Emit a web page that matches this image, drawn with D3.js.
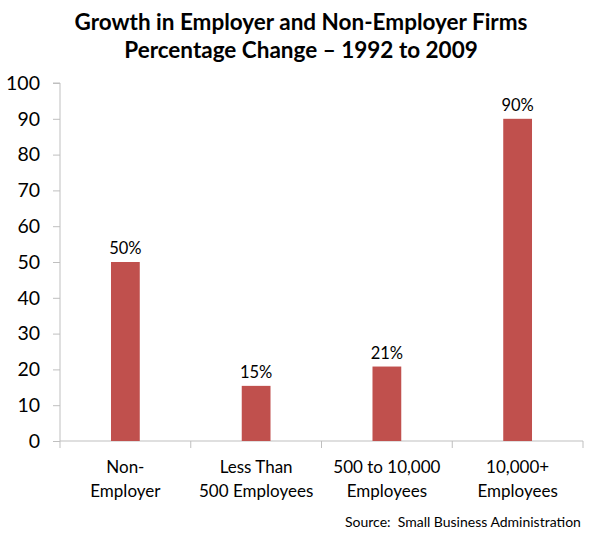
<!DOCTYPE html>
<html><head><meta charset="utf-8">
<script src="https://cdn.jsdelivr.net/npm/d3@7"></script>
<style>body{margin:0;background:#fff}svg{display:block}text{font-family:Lato,"Open Sans",sans-serif;fill:#000}</style>
</head><body><svg id="c" width="600" height="541"></svg>
<script>
const categories = [["Non-","Employer"],["Less Than","500 Employees"],["500 to 10,000","Employees"],["10,000+","Employees"]];
const values = [50, 15.4, 20.8, 90];
const yTicks = [0,10,20,30,40,50,60,70,80,90,100];
const titleLines = ["Growth in Employer and Non-Employer Firms","Percentage Change \u2013 1992 to 2009"];
const source = "Source:  Small Business Administration";

const svg = d3.select("#c");
const m = {l:60, r:17, t:83, b:100};
const W = 600, H = 541;
const x = d3.scaleBand().domain(d3.range(categories.length)).range([m.l, W-m.r]).paddingInner(0.78).paddingOuter(0.39);
const xb = d3.scaleBand().domain(d3.range(categories.length)).range([m.l, W-m.r]);
const y = d3.scaleLinear().domain([0,100]).range([H-m.b, m.t]);

svg.selectAll(".t").data(titleLines).enter().append("text")
  .attr("x",301).attr("y",(d,i)=>30+i*28).attr("text-anchor","middle")
  .style("font-weight","bold").style("font-size","22.5px").text(d=>d);

const ya = svg.append("g").attr("transform",`translate(${m.l},0)`)
  .call(d3.axisLeft(y).tickValues(yTicks).tickSize(7).tickPadding(13).tickFormat(d3.format("d")));
ya.select(".domain").attr("stroke","#bfbfbf").attr("d",`M-7,${y(100)}H0V${y(0)}`);
ya.selectAll(".tick line").attr("stroke","#bfbfbf");
ya.selectAll(".tick text").style("font-size","19.5px").style("font-family","Lato,'Open Sans',sans-serif").attr("fill","#000");

const g = svg.append("g");
g.append("line").attr("x1",m.l).attr("x2",W-m.r).attr("y1",y(0)).attr("y2",y(0)).attr("stroke","#bfbfbf");
d3.range(categories.length+1).forEach(i=>{
  const xx = i<categories.length ? xb(i) : W-m.r;
  g.append("line").attr("x1",xx).attr("x2",xx).attr("y1",y(0)).attr("y2",y(0)+7).attr("stroke","#bfbfbf");
});

svg.selectAll(".bar").data(values).enter().append("rect")
  .attr("x",(d,i)=>x(i)).attr("width",x.bandwidth())
  .attr("y",d=>y(d)).attr("height",d=>y(0)-y(d)).attr("fill","#C0504D");

svg.selectAll(".lbl").data(values).enter().append("text")
  .attr("x",(d,i)=>x(i)+x.bandwidth()/2).attr("y",d=>y(d)-8)
  .attr("text-anchor","middle").style("font-size","16.5px").text(d=>Math.round(d)+"%");

categories.forEach((c,i)=>{
  c.forEach((line,j)=>{
    svg.append("text").attr("x",xb(i)+xb.bandwidth()/2).attr("y",473+j*24)
      .attr("text-anchor","middle").style("font-size","17px").text(line);
  });
});

svg.append("text").attr("x",345).attr("y",527).style("font-size","14px").style("white-space","pre").text(source);
</script></body></html>
